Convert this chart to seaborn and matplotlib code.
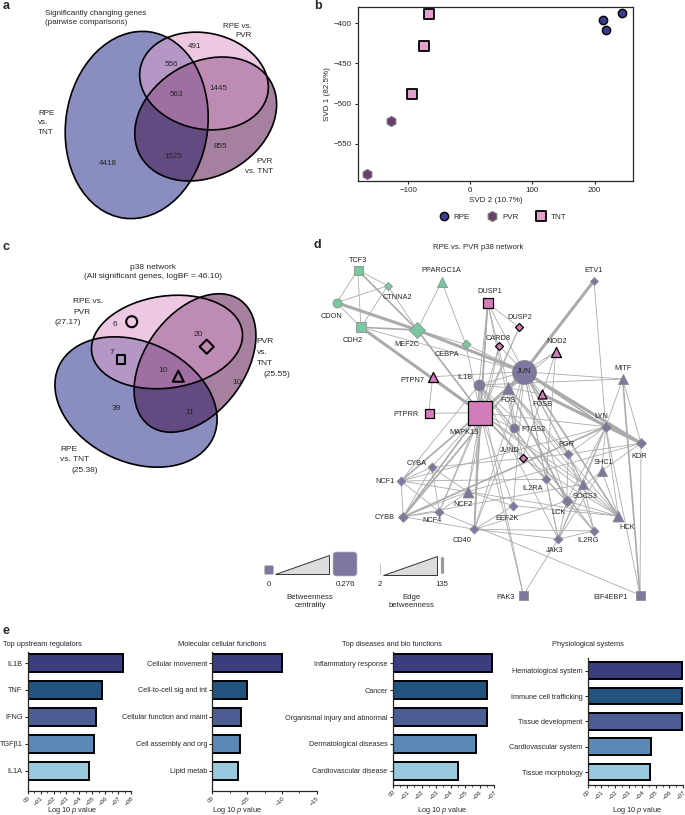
import numpy as np
import pandas as pd
import matplotlib
matplotlib.use("Agg")
import matplotlib.pyplot as plt
import matplotlib.colors as mcolors
import seaborn as sns
from matplotlib.patches import Ellipse, Polygon, FancyBboxPatch
from matplotlib.collections import LineCollection

sns.set_style("ticks")
plt.rcParams["font.family"] = ["Liberation Sans", "DejaVu Sans"]
plt.rcParams["mathtext.fontset"] = "custom"
plt.rcParams["mathtext.rm"] = "Liberation Sans"
plt.rcParams["mathtext.it"] = "Liberation Sans:italic"

W, H = 685, 815
FS = 5.3

# ---------------- data ----------------
# a: Venn of significantly changing genes; region bits: 1=RPE vs TNT, 2=RPE vs PVR, 4=PVR vs TNT
venn_a_regions = [1, 2, 4, 3, 5, 6, 7]
venn_a_counts = [4418, 491, 855, 556, 1525, 1445, 563]

# b: SVD projection
svd_group = ["RPE", "RPE", "RPE", "PVR", "PVR", "TNT", "TNT", "TNT"]
svd2 = [213, 218, 245, -128, -166, -66, -74, -94]
svd1 = [-396, -408, -388, -521, -587, -389, -428, -488]

# c: p38 network Venn
venn_c_regions = [1, 2, 4, 3, 5, 6, 7]
venn_c_counts = [39, 6, 10, 7, 11, 20, 10]

# d: RPE vs PVR p38 network
net_nodes = ["TCF3", "CTNNA2", "PPARGC1A", "CDON", "CDH2", "MEF2C", "CEBPA", "DUSP1", "DUSP2",
             "CARD8", "NOD2", "ETV1", "JUN", "MITF", "PTPN7", "IL1B", "FOS", "FOSB", "PTPRR",
             "MAPK13", "PTGS2", "LYN", "KDR", "PGR", "JUND", "SHC1", "CYBA", "NCF1", "IL2RA",
             "SOCS3", "NCF2", "LCK", "HCK", "EEF2K", "CYBB", "NCF4", "CD40", "IL2RG", "JAK3",
             "PAK3", "EIF4EBP1"]
net_x = [357.7, 387.7, 441.7, 336.7, 361, 417.3, 465.7, 487.7, 519.3, 499, 555.7, 594, 524,
         622.7, 432.7, 479, 508.3, 542.3, 428.7, 480.3, 514, 605.7, 641, 568.3, 522.7, 601.7,
         431.7, 401, 546, 583.3, 467.7, 566.7, 618.3, 513.3, 403.3, 439.3, 474.3, 594, 558.3,
         523.3, 640]
net_y = [270, 285.7, 281.7, 302.7, 327.3, 330, 344.3, 303.3, 327.3, 345.7, 351.7, 280.7, 371.7,
         379, 376.7, 385, 387.7, 394.3, 413.3, 412.7, 428.3, 426.7, 443.3, 454, 458.3, 470.7,
         467.3, 481, 479.3, 484, 491.7, 501, 516, 505.7, 516.7, 511.7, 529.3, 531, 539,
         595, 595]
net_shape = ["s", "D", "^", "o", "s", "D", "D", "s", "D", "D", "^", "D", "o", "^", "^", "o", "^",
             "^", "s", "s", "o", "D", "D", "D", "D", "^", "D", "D", "D", "^", "^", "D", "^", "D",
             "D", "D", "D", "D", "D", "s", "s"]
net_group = ["g", "g", "g", "g", "g", "g", "g", "p", "p", "p", "p", "v", "v", "v", "p", "v", "v",
             "p", "p", "p", "v", "v", "v", "v", "p", "v", "v", "v", "v", "v", "v", "v", "v", "v",
             "v", "v", "v", "v", "v", "v", "v"]
net_size = [9, 8, 10, 9, 10, 16, 9, 10, 8, 8, 10, 8, 24, 10, 10, 11, 12, 9, 9, 24, 9, 10, 10, 9,
            8, 10, 9, 9, 9, 10, 11, 11, 11, 9, 10, 9, 9, 9, 9, 9, 9]
net_edges_thick = ["MEF2C-JUN", "ETV1-JUN", "JUN-KDR", "CDH2-MAPK13", "CDON-MEF2C", "FOSB-KDR"]
net_edges_mid = ["CDH2-MEF2C", "MEF2C-MAPK13", "TCF3-MEF2C", "JUN-LYN", "JUN-FOS", "JUN-MAPK13",
                 "MAPK13-CD40", "MAPK13-CYBB", "JUN-HCK", "LYN-KDR", "MITF-EIF4EBP1",
                 "DUSP1-MAPK13", "MAPK13-NCF1", "JUN-CYBB", "LYN-CYBB", "FOS-LCK"]
net_edges_thin = [
    "TCF3-CTNNA2", "TCF3-CDON", "TCF3-CDH2", "CDON-CTNNA2", "CDON-CDH2", "CDH2-CTNNA2",
    "CTNNA2-MEF2C", "PPARGC1A-MEF2C", "PPARGC1A-CEBPA", "MEF2C-CEBPA", "CDH2-JUN", "CEBPA-JUN",
    "CEBPA-MAPK13", "DUSP1-JUN", "DUSP1-FOS", "DUSP1-IL1B", "DUSP1-DUSP2", "DUSP1-PTGS2",
    "DUSP1-CD40", "DUSP2-MAPK13", "DUSP2-NCF4", "CARD8-MAPK13", "CARD8-JUN", "CARD8-NCF2",
    "NOD2-JUN", "NOD2-MAPK13", "NOD2-IL2RA", "NOD2-FOSB", "JUN-MITF", "JUN-FOSB", "JUN-PTGS2",
    "JUN-PGR", "JUN-SOCS3", "JUN-IL2RA", "JUN-JAK3", "JUN-IL1B", "JUN-EEF2K", "JUN-LCK",
    "JUN-CD40", "MITF-LYN", "MITF-KDR", "MITF-IL1B", "PTPN7-MAPK13", "PTPN7-PTPRR", "PTPN7-JUN",
    "PTPRR-MAPK13", "MAPK13-IL1B", "MAPK13-FOS", "MAPK13-PTGS2", "MAPK13-JUND", "MAPK13-CYBA",
    "MAPK13-NCF4", "MAPK13-NCF2", "MAPK13-PAK3", "MAPK13-EEF2K", "MAPK13-LCK", "MAPK13-IL2RA",
    "MAPK13-SOCS3", "MAPK13-LYN", "MAPK13-HCK", "IL1B-FOS", "IL1B-PTGS2", "IL1B-CD40",
    "IL1B-IL2RA", "IL1B-JAK3", "IL1B-SOCS3", "IL1B-NCF1", "IL1B-IL2RG", "FOS-FOSB", "FOS-PTGS2",
    "FOS-JUND", "FOS-PGR", "FOS-SOCS3", "FOS-HCK", "FOSB-LYN", "FOSB-JUND", "LYN-SHC1",
    "LYN-HCK", "LYN-PGR", "LYN-LCK", "LYN-SOCS3", "LYN-JAK3", "LYN-NCF1", "PGR-LCK",
    "PGR-SOCS3", "PGR-IL2RG", "PGR-CYBA", "SHC1-LCK", "SHC1-HCK", "SHC1-JAK3", "SHC1-KDR",
    "IL2RA-IL2RG", "IL2RA-JAK3", "IL2RA-LCK", "IL2RA-NCF1", "SOCS3-JAK3", "SOCS3-IL2RG",
    "SOCS3-HCK", "SOCS3-CYBB", "LCK-JAK3", "LCK-HCK", "LCK-CD40", "NCF1-CYBA", "NCF1-CYBB",
    "NCF1-NCF4", "NCF1-NCF2", "CYBA-CYBB", "CYBA-NCF2", "CYBA-NCF4", "CYBB-NCF4", "CYBB-NCF2",
    "CYBB-CD40", "NCF4-NCF2", "NCF4-EIF4EBP1", "NCF2-EEF2K", "NCF2-HCK", "CD40-JAK3",
    "CD40-IL2RG", "CD40-EEF2K", "JAK3-PAK3", "JAK3-IL2RG", "PAK3-IL1B", "EIF4EBP1-KDR",
    "EIF4EBP1-LYN", "JUND-HCK", "PTGS2-IL2RG", "EEF2K-HCK", "CD40-PTGS2", "KDR-PGR",
    "KDR-NCF2", "ETV1-LYN"]

# e: IPA enrichment (log10 p value)
reg_names = ["IL1B", "TNF", "IFNG", "TGFβ1", "IL1A"]
reg_vals = [-7.35, -5.73, -5.32, -5.14, -4.77]
mol_names = ["Cellular movement", "Cell-to-cell sig and int", "Cellular function and maint",
             "Cell assembly and org", "Lipid metab"]
mol_vals = [-10.06, -4.98, -4.17, -4.02, -3.69]
dis_names = ["Inflammatory response", "Cancer", "Organismal injury and abnormal",
             "Dermatological diseases", "Cardiovascular disease"]
dis_vals = [-6.84, -6.54, -6.54, -5.78, -4.54]
phy_names = ["Hematological system", "Immune cell trafficking", "Tissue development",
             "Cardiovascular system", "Tissue morphology"]
phy_vals = [-6.93, -6.93, -6.93, -4.68, -4.61]
bar_colors = ["#30338a", "#12548f", "#3f56a3", "#4a8ac6", "#8ecde8"]

# ---------------- figure ----------------
fig = plt.figure(figsize=(W / 100, H / 100), dpi=100)


def px_axes(x0, y0, x1, y1):
    return fig.add_axes([x0 / W, 1 - y1 / H, (x1 - x0) / W, (y1 - y0) / H])


canvas = px_axes(0, 0, W, H)
canvas.axis("off")

region_colors = {1: "#8a8dc1", 2: "#ecc9e3", 4: "#a5809f", 3: "#b597c6",
                 6: "#bf8bb4", 5: "#634a80", 7: "#a06fa2"}


def ellipse_mask(X, Y, e):
    cx, cy, w, h, ang = e
    a = np.deg2rad(ang)
    dx, dy = X - cx, Y - cy
    u = dx * np.cos(a) + dy * np.sin(a)
    v = -dx * np.sin(a) + dy * np.cos(a)
    return (u / (w / 2)) ** 2 + (v / (h / 2)) ** 2 <= 1


def draw_venn(ells, box):
    x0, y0, x1, y1 = box
    X, Y = np.meshgrid(np.arange(x0, x1, 0.25), np.arange(y0, y1, 0.25))
    code = np.zeros(X.shape, dtype=int)
    for i, e in enumerate(ells):
        code |= ellipse_mask(X, Y, e).astype(int) << i
    rgba = np.zeros(code.shape + (4,))
    for k, c in region_colors.items():
        rgba[code == k] = mcolors.to_rgba(c)
    canvas.imshow(rgba, extent=(x0, x1, y1, y0), origin="upper", aspect="auto",
                  interpolation="antialiased", zorder=1)
    for e in ells:
        canvas.add_patch(Ellipse((e[0], e[1]), e[2], e[3], angle=e[4], fill=False,
                                 lw=1.2, ec="black", zorder=2))


def txt(x, y, s, **kw):
    kw.setdefault("fontsize", FS)
    kw.setdefault("ha", "center")
    kw.setdefault("va", "center")
    canvas.text(x, y, s, zorder=6, **kw)


# panel letters
for lx, ly, l in [(3, 6, "a"), (314, 6, "b"), (3, 247, "c"), (314, 245, "d"), (3, 631, "e")]:
    txt(lx, ly, l, fontsize=9, fontweight="bold", ha="left")

# ---- a ----
FA = 5.8
draw_venn([(136.7, 125, 188, 142, -82), (204, 81, 130, 96, 12), (205.7, 119, 150, 114, -30)],
          (50, 20, 290, 230))
a_pos = {1: (108.3, 163.3), 2: (195, 46), 4: (220, 146.7), 3: (171.7, 65), 5: (173.3, 156.7),
         6: (218.3, 88.3), 7: (176.7, 95)}
for r, n in zip(venn_a_regions, venn_a_counts):
    txt(*a_pos[r], str(n), fontsize=FA)
txt(45, 18, "Significantly changing genes\n(pairwise comparisons)", ha="left", linespacing=1.4,
    fontsize=FA)
txt(252, 31, "RPE vs.\nPVR", ha="right", linespacing=1.5, fontsize=FA)
txt(38, 123, "RPE\nvs.\nTNT", ha="left", linespacing=1.5, fontsize=FA)
txt(273, 166.5, "PVR\nvs. TNT", ha="right", linespacing=1.5, fontsize=FA)

# ---- b ----
FB = 5.8
svd_df = pd.DataFrame({"group": svd_group, "svd2": svd2, "svd1": svd1})
ax_b = px_axes(358, 7, 633, 181)
b_style = {"RPE": dict(marker="o", color="#3b3b8f", edgecolor="black", s=36, linewidth=1.0),
           "PVR": dict(marker="h", color="#6a3f6a", edgecolor="#777777", s=52, linewidth=0.8),
           "TNT": dict(marker="s", color="#e3a1cc", edgecolor="black", s=44, linewidth=1.3)}
for g in ["RPE", "PVR", "TNT"]:
    sns.scatterplot(data=svd_df[svd_df.group == g], x="svd2", y="svd1", label=g, ax=ax_b,
                    zorder=3, **b_style[g])
ax_b.set_xlim(-181, 262)
ax_b.set_ylim(-596, -380)
ax_b.set_xticks([-100, 0, 100, 200])
ax_b.set_yticks([-400, -450, -500, -550])
ax_b.tick_params(labelsize=FB, length=2.5, width=0.8, pad=2)
ax_b.set_xlabel("SVD 2 (10.7%)", fontsize=FB, labelpad=2)
ax_b.set_ylabel("SVD 1 (82.5%)", fontsize=FB, labelpad=2)
for sp in ax_b.spines.values():
    sp.set_linewidth(0.9)
ax_b.legend(loc="upper center", bbox_to_anchor=(0.52, -0.165), ncol=3, frameon=False,
            fontsize=FB, handletextpad=0.2, columnspacing=1.8, borderaxespad=0)

# ---- c ----
FC = 6.0
draw_venn([(136, 402, 170, 120, 25), (167, 342, 152, 92, -8), (195, 363, 155, 100, -54)],
          (40, 285, 270, 480))
c_pos = {1: (116.7, 409), 2: (115, 325), 4: (236.7, 382.3), 3: (111.7, 352.7), 5: (190, 412.3),
         6: (198.3, 335), 7: (163.3, 370.7)}
for r, n in zip(venn_c_regions, venn_c_counts):
    txt(*c_pos[r], str(n), fontsize=FC)
c_marks = [(131.7, 321.7, "o", 11), (121, 359.3, "s", 8.5), (178.3, 376.2, "^", 11),
           (206.7, 346.7, "D", 10)]
for mx, my, mk, sz in c_marks:
    canvas.scatter(mx, my, marker=mk, s=(sz * 0.72) ** 2, facecolors="none",
                   edgecolors="black", linewidths=1.5, zorder=5)
txt(153.3, 272, "p38 network\n(All significant genes, logBF = 46.10)", linespacing=1.4,
    fontsize=FC)
for x, y, s in [(73.3, 301.7, "RPE vs."), (73.3, 312.3, "PVR"), (55, 322.7, "(27.17)"),
                (256.7, 341.7, "PVR"), (256.7, 352.5, "vs."), (256.7, 363.3, "TNT"),
                (263.3, 375, "(25.55)"), (60, 449.3, "RPE"), (60, 459.5, "vs. TNT"),
                (71.7, 470, "(25.38)")]:
    txt(x, y, s, ha="left", fontsize=FC)

# ---- d ----
txt(478, 247.5, "RPE vs. PVR p38 network", fontsize=5.6)
pos = {n: (x, y) for n, x, y in zip(net_nodes, net_x, net_y)}
for edges, lw in [(net_edges_thin, 0.6), (net_edges_mid, 1.2), (net_edges_thick, 2.2)]:
    segs = [[pos[e.split("-")[0]], pos[e.split("-")[1]]] for e in edges]
    canvas.add_collection(LineCollection(segs, colors="#ababab", linewidths=lw, zorder=3))
node_fill = {"g": "#77c9a0", "p": "#d47bba", "v": "#7c789f"}
node_edge = {"g": "#8e8e8e", "p": "black", "v": "#8e8e8e"}
for n, x, y, sh, g, sz in zip(net_nodes, net_x, net_y, net_shape, net_group, net_size):
    d = sz / 1.414 if sh == "D" else sz
    canvas.scatter(x, y, marker=sh, s=(d * 0.72) ** 2, c=node_fill[g], edgecolors=node_edge[g],
                   linewidths=0.9 if g == "p" else 0.6, zorder=4)
net_labels = {
    "TCF3": (357.7, 261, "center"), "CTNNA2": (397, 297.7, "center"),
    "PPARGC1A": (441.7, 271, "center"), "CDON": (331.7, 316.7, "center"),
    "CDH2": (353, 340, "center"), "MEF2C": (406.7, 345, "center"),
    "CEBPA": (447, 354, "center"), "DUSP1": (490, 291.7, "center"),
    "DUSP2": (519.3, 317.7, "center"), "CARD8": (498.3, 338.3, "center"),
    "NOD2": (556.7, 341.7, "center"), "ETV1": (594, 271, "center"),
    "JUN": (524, 371.7, "center"), "MITF": (622.7, 369, "center"),
    "PTPN7": (424, 380, "right"), "IL1B": (464.7, 377.3, "center"),
    "FOS": (508.3, 400.7, "center"), "FOSB": (542.3, 405, "center"),
    "PTPRR": (419, 415, "right"), "MAPK13": (464, 432.7, "center"),
    "PTGS2": (521.7, 429.3, "left"), "LYN": (601.7, 416.7, "center"),
    "KDR": (639.3, 457, "center"), "PGR": (566, 445, "center"),
    "JUND": (509.7, 450, "center"), "SHC1": (603.3, 462.7, "center"),
    "CYBA": (416.3, 463.3, "center"), "NCF1": (394.3, 481.7, "right"),
    "IL2RA": (532.3, 488, "center"), "SOCS3": (585.3, 496, "center"),
    "NCF2": (462.7, 505, "center"), "LCK": (558.3, 513, "center"),
    "HCK": (626.7, 527.7, "center"), "EEF2K": (506.7, 518.3, "center"),
    "CYBB": (395, 517.3, "right"), "NCF4": (432, 521, "center"),
    "CD40": (461.7, 540, "center"), "IL2RG": (587.7, 541, "center"),
    "JAK3": (555, 550, "center"), "PAK3": (515, 597.3, "right"),
    "EIF4EBP1": (628.3, 597.3, "right")}
for n, (lx, ly, ha) in net_labels.items():
    txt(lx, ly, n, ha=ha, fontsize=5.3)

# d legend
canvas.add_patch(FancyBboxPatch((264.5, 565.5), 9, 9, boxstyle="round,pad=0,rounding_size=1.5",
                                fc="#7c789f", ec="#bbbbbb", lw=0.5, zorder=4))
canvas.add_patch(Polygon([(275, 574), (329, 574), (329, 555)], closed=True, fc="#dcdcde",
                         ec="#333333", lw=0.7, zorder=4))
canvas.add_patch(FancyBboxPatch((333, 552), 24, 24, boxstyle="round,pad=0,rounding_size=3",
                                fc="#7c789f", ec="#bbbbbb", lw=0.5, zorder=4))
canvas.plot([380.5, 380.5], [563, 573.5], color="#bbbbbb", lw=0.6, zorder=4)
canvas.add_patch(Polygon([(383, 574.5), (437, 574.5), (437, 556)], closed=True, fc="#dcdcde",
                         ec="#333333", lw=0.7, zorder=4))
canvas.plot([441.7, 441.7], [558, 572], color="#9a9a9a", lw=2.3, zorder=4)
txt(269.3, 584, "0", fontsize=5.6)
txt(345, 584, "0.276", fontsize=5.6)
txt(310, 601.5, "Betweenness\ncentrality", linespacing=1.3, fontsize=5.6)
txt(380, 584, "2", fontsize=5.6)
txt(441.7, 584, "135", fontsize=5.6)
txt(411.7, 601.5, "Edge\nbetweenness", linespacing=1.3, fontsize=5.6)

# ---- e ----
e_panels = [
    ("Top upstream regulators", reg_names, reg_vals, (27.7, 651.7, 131, 791), 8, 1, 0.5,
     (4.75, -0.42), (2.7, "left"), 72),
    ("Molecular cellular functions", mol_names, mol_vals, (212.3, 651.7, 316.7, 791), 15, 5,
     2.5, (4.75, -0.42), (221.7, "center"), 237),
    ("Top diseases and bio functions", dis_names, dis_vals, (392.7, 651.7, 494, 785), 7, 1, 0.5,
     (4.52, -0.42), (392.2, "center"), 442),
    ("Physiological systems", phy_names, phy_vals, (587.7, 658.3, 683, 785), 7, 1, 0.5,
     (4.51, -0.49), (588.3, "center"), 637),
]
for title, names, vals, box, xmax, step, minor, ylim, (tx, tha), lab_x in e_panels:
    ax = px_axes(*box)
    ax.set_facecolor("none")
    df = pd.DataFrame({"name": names, "val": vals})
    sns.barplot(data=df, x="val", y="name", hue="name", palette=bar_colors, legend=False,
                orient="h", width=0.66, edgecolor="black", linewidth=1.4, ax=ax)
    ticks = np.arange(0, xmax + 1, step)
    ax.set_xticks(-ticks)
    ax.set_xticklabels(["00" if t == 0 else f"\u2212{t:02d}" for t in ticks], rotation=45,
                       ha="right", rotation_mode="anchor")
    ax.set_xticks(-np.arange(0, xmax + 0.01, minor), minor=True)
    ax.set_xlim(0, -xmax)
    ax.set_ylim(*ylim)
    ax.tick_params(axis="y", labelsize=5.2, length=2.2, width=0.8, pad=1.5)
    ax.tick_params(axis="x", labelsize=4.5, length=2.2, width=0.8, pad=0.8)
    ax.tick_params(which="minor", length=1.4, width=0.6)
    ax.set_xlabel("")
    ax.set_ylabel("")
    sns.despine(ax=ax)
    for sp in ax.spines.values():
        sp.set_linewidth(0.9)
    txt(tx, 644, title, ha=tha)
    txt(lab_x, 810.5, "Log 10 $\\it{p}$ value")

canvas.set_xlim(0, W)
canvas.set_ylim(H, 0)

fig.savefig("out.png", dpi=100)
